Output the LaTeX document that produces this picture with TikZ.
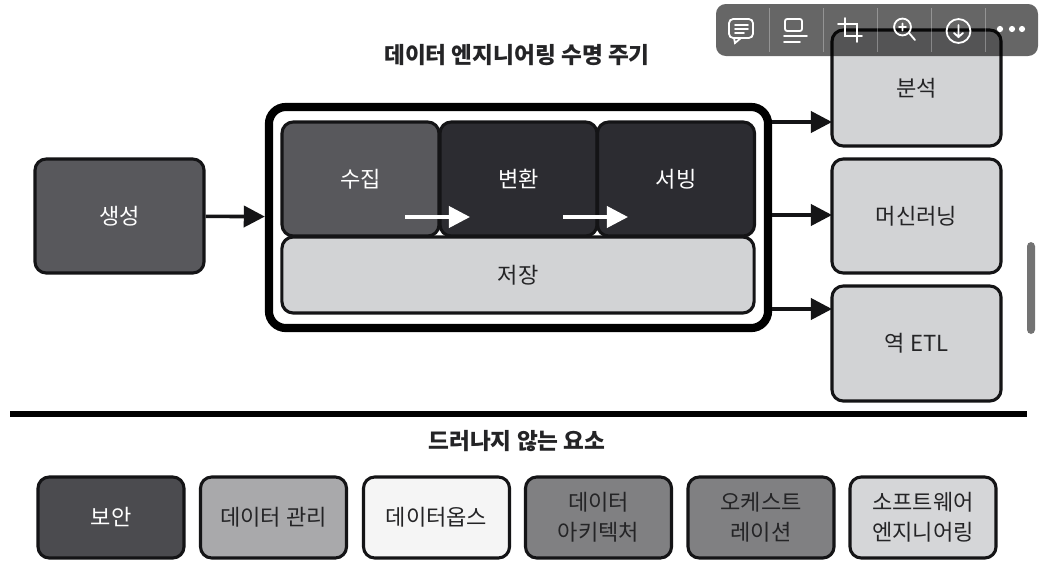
\documentclass[tikz,border=0pt]{standalone}
\usepackage{fontspec}
\setmainfont{Noto Sans CJK KR}
\usetikzlibrary{arrows.meta}
\definecolor{inkline}{HTML}{141416}
\definecolor{inktext}{HTML}{242426}
\definecolor{darkbox}{HTML}{2C2C31}
\definecolor{midbox}{HTML}{58585C}
\definecolor{sidebox}{HTML}{D2D3D5}
\tikzset{
    stagebox/.style={draw=inkline, line width=2.2pt, rounded corners=8pt, align=center, text=inktext,
        font=\fontsize{15.7}{21}\selectfont, inner sep=0pt},
    flow/.style={draw=inkline, line width=2.6pt, -{Triangle[length=15pt,width=15pt]}},
    innerflow/.style={draw=white, line width=2.6pt, -{Triangle[length=15pt,width=15pt]}},
    heading/.style={font=\fontsize{16.1}{20}\selectfont\bfseries, text=inktext},
    toolicon/.style={draw=white, line width=1.3pt, line cap=round}
}
\begin{document}
\begin{tikzpicture}[x=0.025cm, y=-0.025cm]
    \useasboundingbox (0,0) rectangle (1045,579);
    % Page
    \fill[white] (0,0) rectangle (1045,579);
    % Titles
    \node[heading] (lifetitle) at (517,55) {데이터 엔지니어링 수명 주기};
    \node[heading] (hiddentitle) at (517,441) {드러나지 않는 요소};
    % Source
    \node[stagebox, fill=midbox, text=white, minimum width=4.225cm, minimum height=2.85cm] (source) at (119.5,216) {생성};
    % Lifecycle frame
    \node[draw=black, line width=5.8pt, rounded corners=12pt, fill=white, minimum width=12.475cm, minimum height=5.525cm] (frame) at (518.5,217.5) {};
    \node[stagebox, fill=midbox, text=white, minimum width=3.925cm, minimum height=2.85cm] (ingest) at (360.5,179) {수집};
    \node[stagebox, fill=darkbox, text=white, minimum width=3.925cm, minimum height=2.85cm] (transform) at (518.5,179) {변환};
    \node[stagebox, fill=darkbox, text=white, minimum width=3.925cm, minimum height=2.85cm] (serve) at (676,179) {서빙};
    \node[stagebox, fill=sidebox, minimum width=11.8cm, minimum height=1.9cm] (store) at (518,275) {저장};
    % Outputs
    \node[stagebox, fill=sidebox, minimum width=4.225cm, minimum height=2.9cm] (analysis) at (916.5,88) {분석};
    \node[stagebox, fill=sidebox, minimum width=4.225cm, minimum height=2.85cm] (learning) at (916.5,216) {머신러닝};
    \node[stagebox, fill=sidebox, minimum width=4.225cm, minimum height=2.875cm] (etl) at (916.5,343.5) {역 ETL};
    % Arrows
    \coordinate (tipa) at (832,122);
    \coordinate (tipb) at (832,215);
    \coordinate (tipc) at (832,309);
    \coordinate (starta) at (405,217);
    \coordinate (enda) at (470,217);
    \coordinate (startb) at (563,217);
    \coordinate (endb) at (628,217);
    \draw[flow] (source) -- (frame);
    \draw[flow] (frame.east |- tipa) -- (tipa);
    \draw[flow] (frame.east |- tipb) -- (tipb);
    \draw[flow] (frame.east |- tipc) -- (tipc);
    \draw[innerflow] (starta) -- (enda);
    \draw[innerflow] (startb) -- (endb);
    % Divider
    \coordinate (ruleleft) at (10,414);
    \coordinate (ruleright) at (1027,414);
    \draw[black, line width=3.6pt] (ruleleft) -- (ruleright);
    % Undercurrents
    \foreach \x/\name/\shade/\ink/\label in {
        111/security/4B4B4F/white/보안,
        273.5/management/A9A9AB/inktext/데이터 관리,
        436.5/dataops/F5F5F5/inktext/데이터옵스,
        598.5/architecture/808082/inktext/{데이터\\아키텍처},
        761/orchestration/808082/inktext/{오케스트\\레이션},
        923/software/D5D6D8/inktext/{소프트웨어\\엔지니어링}}
    {
        \definecolor{boxshade}{HTML}{\shade}
        \node[stagebox, fill=boxshade, text=\ink, minimum width=3.65cm, minimum height=2.025cm] (\name) at (\x,517.5) {\label};
    }
    % Viewer toolbar
    \fill[black, opacity=0.6, rounded corners=7pt] (716,4) rectangle (1038,56);
    \foreach \x in {769,823,877,931,985}
        \draw[white, opacity=0.3, line width=0.7pt] (\x,8) -- (\x,52);
    \draw[toolicon, rounded corners=3pt] (729,19) rectangle (753,38);
    \draw[toolicon] (734,38) -- (735,43) -- (741,38);
    \draw[toolicon] (735,25) -- (748,25) (735,29) -- (748,29) (735,33) -- (744,33);
    \draw[toolicon, rounded corners=1.5pt] (785,19) rectangle (802,31);
    \draw[toolicon] (784,36) -- (807,36) (784,42) -- (800,42);
    \draw[toolicon] (845,18) -- (845,36) -- (862,36) (838,24) -- (857,24) -- (857,42);
    \draw[toolicon] (902.5,27) circle (6pt) (909,33) -- (915,40) (902.5,23.5) -- (902.5,30.5) (899,27) -- (906,27);
    \draw[toolicon] (958.5,31) circle (8.5pt) (958.5,25) -- (958.5,37) (954,33) -- (958.5,37) -- (963,33);
    \foreach \x in {1000,1012,1022}
        \fill[white] (\x,29) circle (2.2pt);
    % Scrollbar
    \fill[black!55, rounded corners=3pt] (1027,242) rectangle (1035,334);
\end{tikzpicture}
\end{document}
